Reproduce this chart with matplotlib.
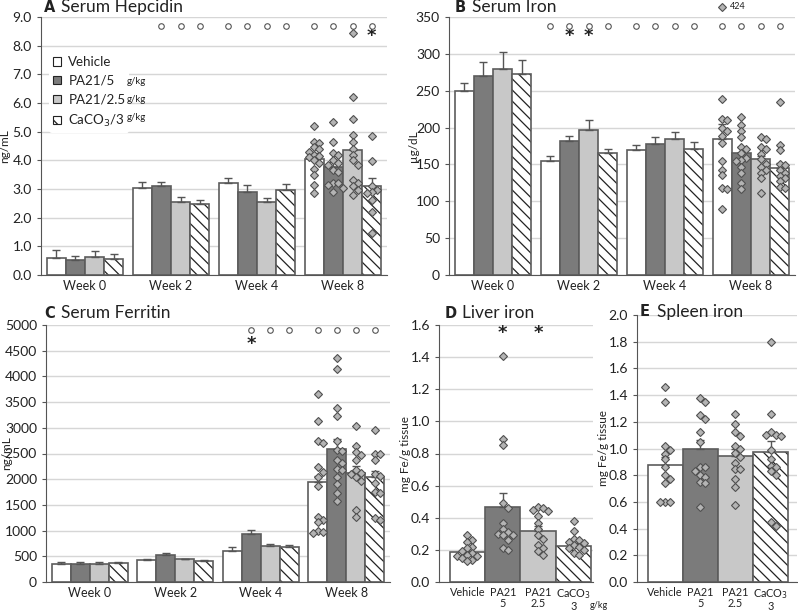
import numpy as np
import matplotlib.pyplot as plt
from matplotlib.patches import Patch

plt.rcParams['font.family'] = ['Lato', 'DejaVu Sans']
plt.rcParams['hatch.linewidth'] = 0.9

weeks = ['Week 0', 'Week 2', 'Week 4', 'Week 8']
groups = ['Vehicle', 'PA21/5', 'PA21/2.5', 'CaCO$_3$/3']
tissue_labels = ['Vehicle', 'PA21\n5', 'PA21\n2.5', 'CaCO$_3$\n3']

# serum hepcidin (ng/mL): rows = weeks, cols = groups
hep_mean = [[0.60, 0.52, 0.63, 0.56], [3.05, 3.12, 2.53, 2.48],
            [3.22, 2.90, 2.53, 2.95], [4.05, 3.75, 4.35, 3.12]]
hep_err = [[0.28, 0.15, 0.22, 0.18], [0.20, 0.13, 0.20, 0.14],
           [0.18, 0.25, 0.17, 0.23], [0.20, 0.20, 0.30, 0.25]]
hep_circ = [[0, 0, 0, 0], [0, 1, 1, 1], [1, 1, 1, 1], [1, 1, 1, 1]]
hep_star = [[0, 0, 0, 0], [0, 0, 0, 0], [0, 0, 0, 0], [0, 0, 0, 1]]
hep_w8 = [[5.2, 4.65, 4.6, 4.45, 4.4, 4.3, 4.2, 4.15, 4.1, 4.0, 3.9, 3.7, 3.5, 3.15, 2.85],
          [5.32, 4.65, 4.25, 4.2, 4.0, 3.9, 3.85, 3.65, 3.6, 3.2, 3.2, 3.15, 3.05, 2.9],
          [8.45, 6.2, 5.45, 4.9, 4.65, 4.4, 4.2, 4.0, 3.85, 3.3, 3.2, 3.1, 2.95, 2.8],
          [4.85, 3.97, 3.1, 2.95, 2.9, 2.85, 2.6, 2.2, 1.45]]

# serum iron (ug/dL)
iron_mean = [[250, 270, 279, 273], [155, 182, 197, 165],
             [169, 178, 185, 171], [185, 165, 157, 145]]
iron_err = [[11, 19, 23, 19], [6, 7, 13, 6], [7, 9, 9, 10], [20, 8, 5, 7]]
iron_circ = [[0, 0, 0, 0], [1, 1, 1, 1], [1, 1, 1, 1], [1, 1, 1, 1]]
iron_star = [[0, 0, 0, 0], [0, 1, 1, 0], [0, 0, 0, 0], [0, 0, 0, 0]]
iron_w8 = [[239, 212, 210, 199, 195, 188, 179, 155, 143, 135, 118, 117, 90],
           [215, 204, 195, 187, 174, 171, 165, 159, 156, 154, 147, 139, 125, 116],
           [187, 184, 174, 171, 164, 157, 151, 147, 142, 138, 131, 111],
           [235, 177, 169, 151, 149, 143, 138, 134, 131, 127, 120, 118]]
iron_outlier = 424

# serum ferritin (ng/mL)
fer_mean = [[355, 355, 355, 360], [420, 525, 440, 400],
            [610, 940, 710, 690], [1950, 2590, 2130, 2050]]
fer_err = [[40, 40, 40, 35], [35, 35, 15, 30], [80, 70, 30, 30], [120, 190, 120, 110]]
fer_circ = [[0, 0, 0, 0], [0, 0, 0, 0], [0, 1, 1, 1], [1, 1, 1, 1]]
fer_star = [[0, 0, 0, 0], [0, 0, 0, 0], [0, 1, 0, 0], [0, 0, 0, 0]]
fer_w8 = [[3660, 3130, 2740, 2700, 2230, 2140, 2050, 1870, 1260, 1210, 1160, 1000, 980, 960],
          [4350, 4145, 3380, 3220, 2750, 2570, 2550, 2380, 2320, 2200, 2180, 2050, 1900, 1730, 1570],
          [3040, 2640, 2520, 2475, 2380, 2180, 2130, 2100, 2050, 1970, 1400, 1260],
          [2950, 2500, 2490, 2380, 2100, 2060, 1920, 1760, 1730, 1240, 1210]]

# liver iron (mg Fe/g tissue)
liver_mean = [0.185, 0.47, 0.32, 0.225]
liver_err = [0.01, 0.085, 0.03, 0.02]
liver_star = [0, 1, 1, 0]
liver_pts = [[0.29, 0.26, 0.25, 0.22, 0.21, 0.19, 0.18, 0.17, 0.16, 0.16, 0.15, 0.14, 0.13],
             [1.41, 0.89, 0.85, 0.49, 0.46, 0.37, 0.33, 0.31, 0.30, 0.29, 0.29, 0.26, 0.21, 0.20],
             [0.47, 0.46, 0.45, 0.44, 0.41, 0.37, 0.33, 0.29, 0.27, 0.23, 0.21, 0.19, 0.17],
             [0.38, 0.32, 0.27, 0.26, 0.25, 0.24, 0.23, 0.22, 0.21, 0.20, 0.18, 0.17]]

# spleen iron (mg Fe/g tissue)
spleen_mean = [0.88, 1.0, 0.945, 0.975]
spleen_err = [0.06, 0.06, 0.05, 0.08]
spleen_pts = [[1.46, 1.35, 1.02, 0.99, 0.96, 0.92, 0.86, 0.80, 0.77, 0.74, 0.60, 0.60, 0.60],
              [1.38, 1.35, 1.25, 1.22, 1.12, 1.05, 0.86, 0.86, 0.83, 0.80, 0.79, 0.75, 0.74, 0.56],
              [1.26, 1.18, 1.12, 1.09, 1.02, 1.00, 0.97, 0.94, 0.89, 0.85, 0.85, 0.77, 0.71, 0.58],
              [1.80, 1.26, 1.12, 1.10, 1.10, 1.09, 0.99, 0.92, 0.87, 0.86, 0.83, 0.80, 0.45, 0.42]]

W, H = 798, 612
fills = ['white', '#7b7b7b', '#c8c8c8', 'white']
edge = '#5c5c5c'
txt = '#222222'

fig = plt.figure(figsize=(W / 100, H / 100), dpi=100)


def px_axes(l, t, r, b):
    return fig.add_axes([l / W, 1 - b / H, (r - l) / W, (b - t) / H])


def style(ax, ylim, step, fmt, ylabel, lab_x):
    ax.set_ylim(*ylim)
    ax.set_yticks(np.arange(ylim[0], ylim[1] + step / 2, step))
    ax.yaxis.set_major_formatter(plt.FormatStrFormatter(fmt))
    ax.grid(axis='y', color='#d6d6d6', lw=1, zorder=0)
    ax.set_axisbelow(True)
    for s in ['top', 'right']:
        ax.spines[s].set_visible(False)
    ax.spines['left'].set_color('#555555')
    ax.spines['bottom'].set_color('#555555')
    ax.tick_params(axis='y', labelsize=10, colors=txt, length=3, color='#555555')
    ax.tick_params(axis='x', length=0, labelsize=9, colors=txt)
    ax.set_ylabel(ylabel, fontsize=8.5, color=txt)
    ax.yaxis.set_label_coords(lab_x, 0.5)


def bar(ax, x, h, k, w=1.0):
    if k == 3:
        ax.bar(x, h, w, color='white', edgecolor='#222222', hatch='\\\\\\', lw=0, zorder=2)
        ax.bar(x, h, w, fill=False, edgecolor=edge, lw=1.2, zorder=3)
    else:
        ax.bar(x, h, w, color=fills[k], edgecolor=edge, lw=1.2, zorder=2)


def swarm(ax, xc, vals, d=5.0, step=5.0):
    pts = ax.transData.transform(np.column_stack([np.full(len(vals), xc), vals]))
    x0 = pts[0, 0]
    placed = []
    for i in np.argsort(vals)[::-1]:
        y = pts[i, 1]
        for j in range(60):
            off = ((j + 1) // 2) * step * (1 if j % 2 else -1)
            ok = all((x0 + off - px) ** 2 + (y - py) ** 2 >= d * d for px, py in placed)
            if ok:
                break
        placed.append((x0 + off, y))
    arr = ax.transData.inverted().transform(np.array(placed))
    ax.plot(arr[:, 0], arr[:, 1], 'D', ms=4.4, mfc='#b4b4b4', mec='#505050', mew=0.8,
            ls='none', zorder=6, clip_on=False)


def weekly(ax, mean, err, circ, star, w8, ylim, step, fmt, ylabel, lab_x, circ_y, star_y):
    style(ax, ylim, step, fmt, ylabel, lab_x)
    pitch = 4.5
    ax.set_xlim(-2.3, 3 * pitch + 2.3)
    xs = []
    for g in range(4):
        for k in range(4):
            x = g * pitch + k - 1.5
            bar(ax, x, mean[g][k], k)
            ax.errorbar(x, mean[g][k], yerr=[[0], [err[g][k]]], fmt='none', ecolor='#555555',
                        elinewidth=1, capsize=3, capthick=1, zorder=4)
            if circ[g][k]:
                ax.plot(x, circ_y, 'o', ms=4.0, mfc='white', mec='#555555', mew=0.8,
                        clip_on=False, zorder=5)
            if star[g][k]:
                ax.text(x, star_y, '*', ha='center', va='center', fontsize=13,
                        fontweight='bold', color=txt, family='DejaVu Sans')
            if g == 3:
                xs.append(x)
    ax.set_xticks([g * pitch for g in range(4)])
    ax.set_xticklabels(weeks)
    for k in range(4):
        swarm(ax, xs[k], w8[k])
    return xs


def title(x, y, letter, name):
    fig.text(x / W, 1 - y / H, letter, fontsize=10.5, fontweight='bold', color=txt,
             va='center', family='DejaVu Sans')
    fig.text((x + 17) / W, 1 - y / H, name, fontsize=12.5, color=txt, va='center')


# A
axA = px_axes(41, 17, 387, 275)
weekly(axA, hep_mean, hep_err, hep_circ, hep_star, hep_w8, (0, 9), 1.0, '%.1f', 'ng/mL', -0.09,
       8.7, 8.33)
title(44, 7, 'A', 'Serum Hepcidin')
handles = [Patch(facecolor=fills[k], edgecolor='#222222', lw=0.8,
                 hatch='\\\\\\' if k == 3 else None) for k in range(4)]
leg = axA.legend(handles, groups, loc='upper left', bbox_to_anchor=(49 / W, 1 - 52 / H),
                 bbox_transform=fig.transFigure, fontsize=9.6, frameon=True, framealpha=1,
                 edgecolor='none', handlelength=0.6, handleheight=0.6, handletextpad=0.55,
                 labelspacing=0.52, borderpad=0.3, borderaxespad=0, labelcolor=txt)
leg.get_frame().set_linewidth(0)
leg.set_zorder(7)
for yy in [81, 99, 117]:
    fig.text(127 / W, 1 - yy / H, 'g/kg', fontsize=7, color=txt, va='center')

# B
axB = px_axes(449, 17, 795, 275)
xsB = weekly(axB, iron_mean, iron_err, iron_circ, iron_star, iron_w8, (0, 350), 50, '%d', 'µg/dL',
             -0.088, 338, 324)
axB.plot(xsB[0], 364, 'D', ms=4.4, mfc='#b4b4b4', mec='#505050', mew=0.8, clip_on=False)
axB.text(xsB[0] + 0.4, 364, str(iron_outlier), fontsize=6.5, va='center', color=txt)
title(455, 7, 'B', 'Serum Iron')

# C
axC = px_axes(46, 325, 390, 582)
weekly(axC, fer_mean, fer_err, fer_circ, fer_star, fer_w8, (0, 5000), 500, '%d', 'ng/mL', -0.098,
       4900, 4640)
title(44, 313, 'C', 'Serum Ferritin')


def tissue(ax, mean, err, pts, ylim, xr, lab_x):
    style(ax, ylim, 0.2, '%.1f', 'mg Fe/g tissue', lab_x)
    ax.set_xlim(-0.8, xr)
    for k in range(4):
        bar(ax, k, mean[k], k)
        ax.errorbar(k, mean[k], yerr=[[0], [err[k]]], fmt='none', ecolor='#555555',
                    elinewidth=1, capsize=3, capthick=1, zorder=4)
        swarm(ax, k, pts[k])
    ax.set_xticks(range(4))
    ax.set_xticklabels(tissue_labels, fontsize=7.8, linespacing=1.0)


# D
axD = px_axes(439, 325, 593, 582)
tissue(axD, liver_mean, liver_err, liver_pts, (0, 1.6), 3.55, -0.185)
for k in range(4):
    if liver_star[k]:
        axD.text(k, 1.55, '*', ha='center', va='center', fontsize=13, fontweight='bold',
                 color=txt, family='DejaVu Sans')
title(445, 313, 'D', 'Liver iron')
fig.text(590 / W, 1 - 605 / H, 'g/kg', fontsize=6.5, color=txt, va='center')

# E
axE = px_axes(637, 315, 797, 582)
tissue(axE, spleen_mean, spleen_err, spleen_pts, (0, 2.0), 3.75, -0.175)
title(640, 312, 'E', 'Spleen iron')

fig.savefig('out.png', dpi=100)
